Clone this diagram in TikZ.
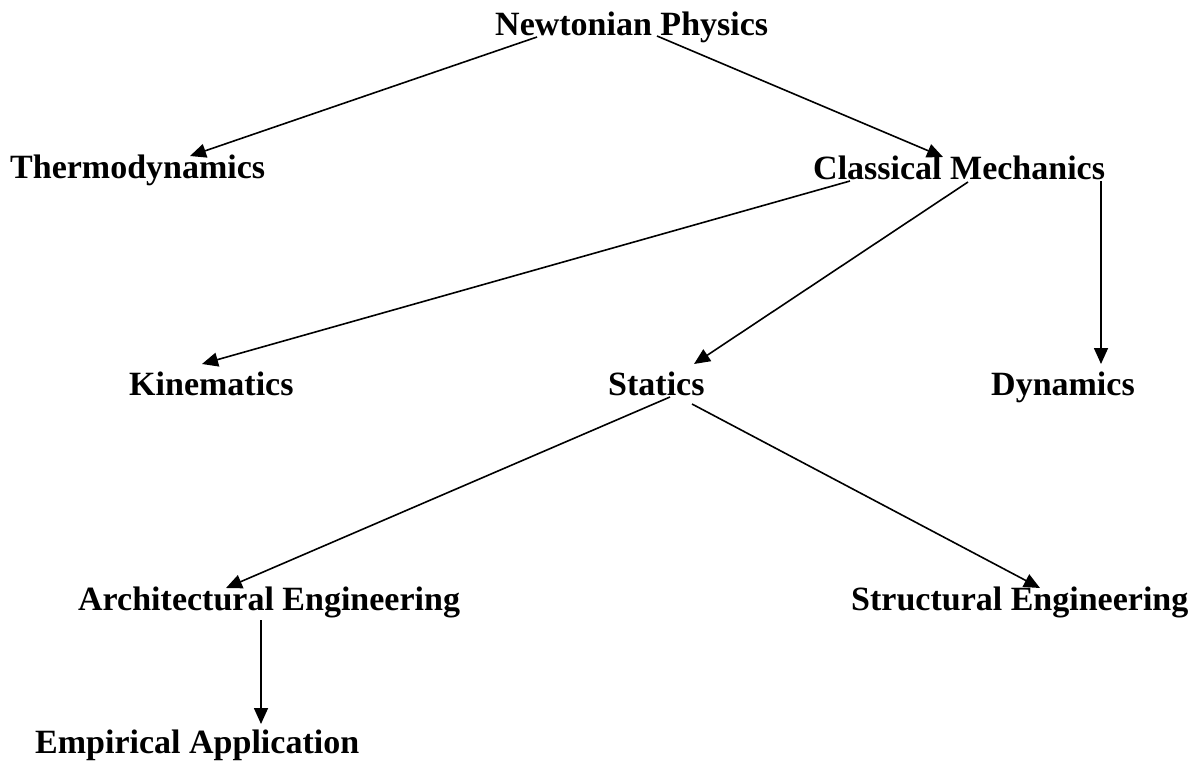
\documentclass[tikz,border=0pt]{standalone}
\usepackage{fontspec}
\setmainfont{Liberation Serif}
\usetikzlibrary{arrows.meta}
\begin{document}
\begin{tikzpicture}[x=1pt,y=-1pt,
  lbl/.style={anchor=base west,inner sep=0pt,font=\fontsize{34}{40}\selectfont\bfseries},
  conn/.style={line width=1.6pt,-{Triangle[length=16pt,width=14pt]}}]
\useasboundingbox (0,0) rectangle (1196,764);
\node[lbl] (np) at (495,35) {Newtonian Physics};
\node[lbl] (th) at (10,178) {Thermodynamics};
\node[lbl] (cm) at (813,179) {Classical Mechanics};
\node[lbl] (ki) at (129,395) {Kinematics};
\node[lbl] (st) at (608,395) {Statics};
\node[lbl] (dy) at (991,395) {Dynamics};
\node[lbl] (ae) at (78,610) {Architectural Engineering};
\node[lbl] (se) at (851,610) {Structural Engineering};
\node[lbl] (ea) at (35,753) {Empirical Application};
% connector end points
\coordinate (np1) at (537,37);
\coordinate (th1) at (190,156);
\coordinate (np2) at (657,36);
\coordinate (cm1) at (943,157);
\coordinate (cm2) at (850,181);
\coordinate (ki1) at (202,364);
\coordinate (cm3) at (968,182);
\coordinate (st1) at (694,364);
\coordinate (cm4) at (1101,181);
\coordinate (dy1) at (1101,364);
\coordinate (st2) at (670,397);
\coordinate (ae1) at (226,588);
\coordinate (st3) at (692,404);
\coordinate (se1) at (1040,588);
\coordinate (ae2) at (261,620);
\coordinate (ea1) at (261,724);
\draw[conn] (np1) -- (th1);
\draw[conn] (np2) -- (cm1);
\draw[conn] (cm2) -- (ki1);
\draw[conn] (cm3) -- (st1);
\draw[conn] (cm4) -- (dy1);
\draw[conn] (st2) -- (ae1);
\draw[conn] (st3) -- (se1);
\draw[conn] (ae2) -- (ea1);
\end{tikzpicture}
\end{document}
